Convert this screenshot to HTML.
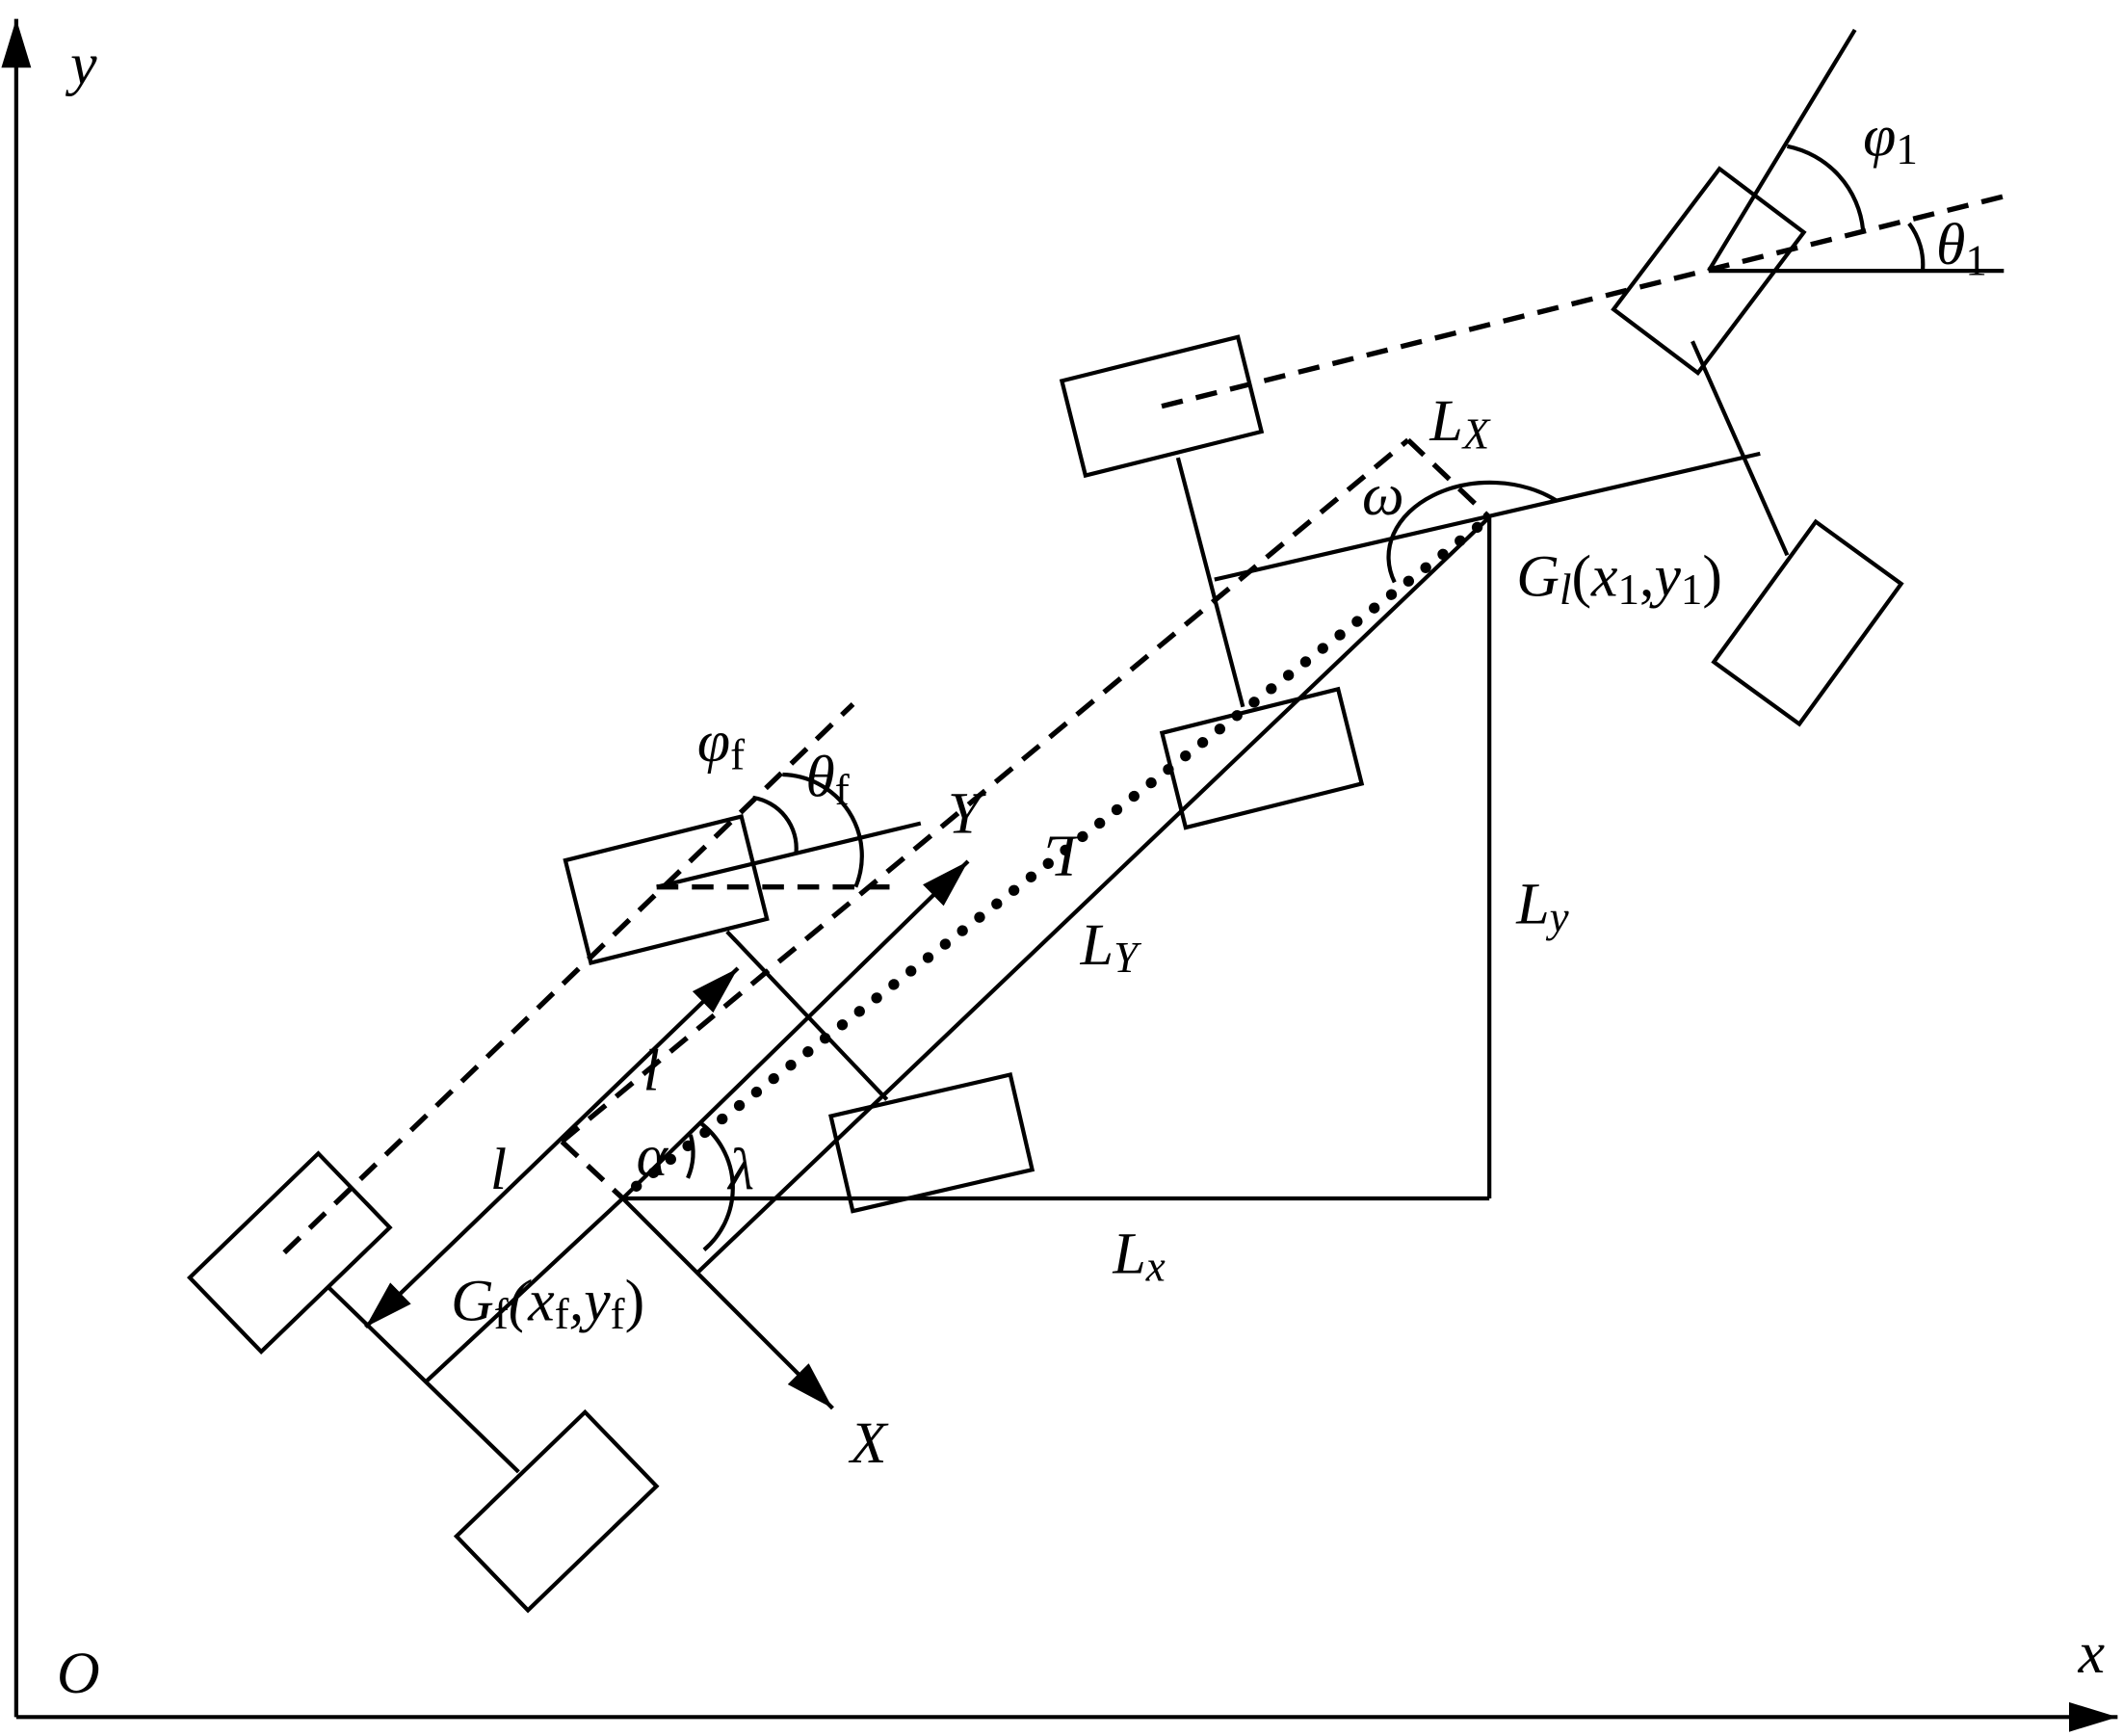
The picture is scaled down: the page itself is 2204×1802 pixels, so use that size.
<!DOCTYPE html>
<html><head><meta charset="utf-8"><style>
html,body{margin:0;padding:0;background:#fff;}
svg{display:block;}
text{font-family:"Liberation Serif",serif;font-style:italic;fill:#000;}
.n{font-style:normal;}
</style></head><body>
<svg width="2204" height="1802" viewBox="0 0 1568 1282" xmlns="http://www.w3.org/2000/svg">
<defs>
<marker id="ahb" viewBox="0 0 36 22" refX="36" refY="11" markerWidth="36" markerHeight="22" markerUnits="userSpaceOnUse" orient="auto-start-reverse">
<path d="M0,0 L36,11 L0,22 Z" fill="#000"/></marker>
</defs>
<g stroke="#000" stroke-width="3" fill="none">
<line x1="12" y1="1268" x2="12" y2="14" marker-end="url(#ahb)"/>
<line x1="12" y1="1268" x2="1564" y2="1268" marker-end="url(#ahb)"/>
<rect x="-66" y="-38" width="132" height="76" transform="translate(214,925) rotate(-44)" fill="#fff"/>
<rect x="-66" y="-38" width="132" height="76" transform="translate(411,1116) rotate(-44)" fill="#fff"/>
<rect x="-67" y="-39" width="134" height="78" transform="translate(492,657) rotate(-14)" fill="#fff"/>
<rect x="-68" y="-36" width="136" height="72" transform="translate(688,844) rotate(-13)" fill="#fff"/>
<rect x="-67" y="-36" width="134" height="72" transform="translate(858,300) rotate(-14)" fill="#fff"/>
<rect x="-67" y="-36" width="134" height="72" transform="translate(932,560) rotate(-14)" fill="#fff"/>
<rect x="-65" y="-39" width="130" height="78" transform="translate(1262,200) rotate(-53)" fill="#fff"/>
<rect x="-64" y="-39" width="128" height="78" transform="translate(1335,460) rotate(-54)" fill="#fff"/>
<line x1="242" y1="950" x2="383" y2="1087"/>
<line x1="315" y1="1020" x2="460" y2="885"/>
<line x1="537" y1="688" x2="655" y2="812"/>
<line x1="460" y1="885" x2="715" y2="636" marker-end="url(#ahb)"/>
<line x1="460" y1="885" x2="615" y2="1040" marker-end="url(#ahb)"/>
<line x1="515" y1="940" x2="1100" y2="382"/>
<line x1="460" y1="885" x2="1100" y2="885"/>
<line x1="1100" y1="885" x2="1100" y2="382"/>
<line x1="270" y1="980" x2="545" y2="715" marker-start="url(#ahb)" marker-end="url(#ahb)"/>
<line x1="485" y1="655" x2="680" y2="608"/>
<line x1="870" y1="338" x2="918" y2="522"/>
<line x1="897" y1="428" x2="1300" y2="335"/>
<line x1="1250" y1="252" x2="1320" y2="410"/>
<line x1="1262" y1="200" x2="1370" y2="22"/>
<line x1="1262" y1="200" x2="1480" y2="200"/>
<path d="M556,589 A38 38 0 0 1 588,630"/>
<path d="M578,572 A60 60 0 0 1 632,655"/>
<path d="M1320,108 A70 70 0 0 1 1376,170"/>
<path d="M1410,165 A50 50 0 0 1 1420,200"/>
<path d="M1030,430 A75 55 0 0 1 1150,370"/>
<path d="M517,829 A60 60 0 0 1 520,923"/>
<path d="M510,838 A48 48 0 0 1 508,870"/>
</g>
<g stroke="#000" stroke-width="3.8" fill="none" stroke-dasharray="16,10">
<line x1="210" y1="925" x2="630" y2="520"/>
<line x1="485" y1="655" x2="660" y2="655"/>
<line x1="415" y1="843" x2="460" y2="885"/>
<line x1="415" y1="843" x2="1040" y2="325"/>
<line x1="1040" y1="325" x2="1100" y2="382"/>
<line x1="858" y1="300" x2="1480" y2="145"/>
</g>
<line x1="470" y1="876" x2="1098" y2="384" stroke="#000" stroke-width="8" stroke-linecap="round" stroke-dasharray="0.1,16"/>
<g font-size="44">
<text x="52" y="62">y</text>
<text x="1535" y="1235">x</text>
<text x="42" y="1250">O</text>
<text x="515" y="562">φ<tspan class="n" font-size="32" dy="6">f</tspan></text>
<text x="595" y="588">θ<tspan class="n" font-size="32" dy="6">f</tspan></text>
<text x="700" y="615">Y</text>
<text x="768" y="650" transform="rotate(180 782 634)">L</text>
<text x="798" y="712">L<tspan font-size="32" dy="6">Y</tspan></text>
<text x="1120" y="682">L<tspan font-size="32" dy="6">y</tspan></text>
<text x="822" y="940">L<tspan font-size="32" dy="6">x</tspan></text>
<text x="475" y="805">l</text>
<text x="362" y="878">l</text>
<text x="470" y="868">α</text>
<text x="538" y="878">λ</text>
<text x="333" y="975">G<tspan class="n" font-size="32" dy="6">f</tspan><tspan dy="-6">(x</tspan><tspan class="n" font-size="32" dy="6">f</tspan><tspan dy="-6">,y</tspan><tspan class="n" font-size="32" dy="6">f</tspan><tspan class="n" dy="-6">)</tspan></text>
<text x="628" y="1080">X</text>
<text x="1056" y="325">L<tspan font-size="32" dy="6">X</tspan></text>
<text x="1006" y="380">ω</text>
<text x="1120" y="440">G<tspan font-size="32" dy="6">l</tspan><tspan class="n" dy="-6">(</tspan>x<tspan class="n" font-size="32" dy="6">1</tspan><tspan class="n" dy="-6">,</tspan>y<tspan class="n" font-size="32" dy="6">1</tspan><tspan class="n" dy="-6">)</tspan></text>
<text x="1376" y="115">φ<tspan class="n" font-size="32" dy="6">1</tspan></text>
<text x="1430" y="195">θ<tspan class="n" font-size="32" dy="8">1</tspan></text>
</g>
</svg>
</body></html>
